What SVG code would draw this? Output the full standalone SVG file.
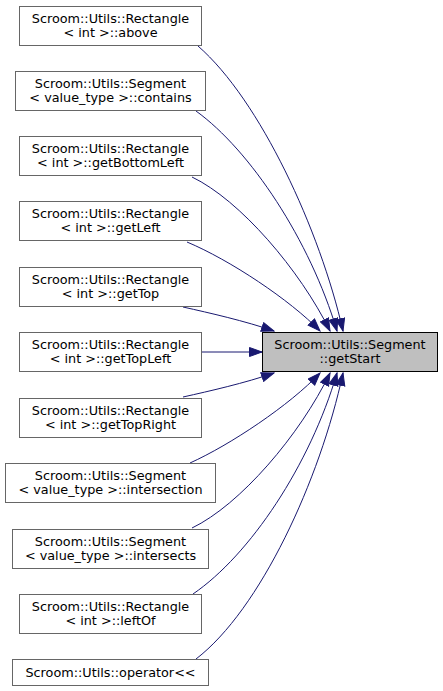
<svg xmlns="http://www.w3.org/2000/svg" width="443" height="691" viewBox="0 0 443 691">
<style>
.box{fill:#ffffff;stroke:#666666;stroke-width:1}
.tgt{fill:#bfbfbf;stroke:#000000;stroke-width:1}
text{font-family:"DejaVu Sans",sans-serif;font-size:12.8px;fill:#000000;text-anchor:middle}
.edge{fill:none;stroke:#191970;stroke-width:1;marker-end:url(#arr)}
</style>
<defs>
<marker id="arr" markerUnits="userSpaceOnUse" markerWidth="14" markerHeight="12" refX="13" refY="5" orient="auto">
<path d="M0.5,0.5 L13,5 L0.5,9.5 z" fill="#191970" stroke="#191970" stroke-width="1"/>
</marker>
</defs>
<rect width="443" height="691" fill="#ffffff"/>
<g id="connectors">
<path class="edge" d="M198,46 C260,100 320,230 343,331"/>
<path class="edge" d="M196,111 C250,150 310,240 337,331"/>
<path class="edge" d="M192,177 C240,200 300,270 330,331"/>
<path class="edge" d="M187,242 C230,260 290,300 320,331"/>
<path class="edge" d="M183,307 C210,313 245,321 274,331"/>
<path class="edge" d="M201,352 L262,352"/>
<path class="edge" d="M183,397 C210,391 245,383 274,373"/>
<path class="edge" d="M190,463 C230,445 290,405 320,373"/>
<path class="edge" d="M192,528 C240,505 300,435 330,373"/>
<path class="edge" d="M193,594 C250,555 310,465 337,373"/>
<path class="edge" d="M196,659 C260,610 320,480 343,373"/>
</g>
<g id="target">
<rect class="tgt" x="262.5" y="332.5" width="175" height="39"/>
<text x="350" y="348.5">Scroom::Utils::Segment</text>
<text x="350" y="363">::getStart</text>
</g>
<g id="n1">
<rect class="box" x="19.5" y="6.5" width="182" height="39"/>
<text x="110.5" y="22.5">Scroom::Utils::Rectangle</text>
<text x="110.5" y="37">&lt; int &gt;::above</text>
</g>
<g id="n2">
<rect class="box" x="15.5" y="71.5" width="190" height="39"/>
<text x="110.5" y="87.5">Scroom::Utils::Segment</text>
<text x="110.5" y="102">&lt; value_type &gt;::contains</text>
</g>
<g id="n3">
<rect class="box" x="19.5" y="136.5" width="182" height="39"/>
<text x="110.5" y="152.5">Scroom::Utils::Rectangle</text>
<text x="110.5" y="167">&lt; int &gt;::getBottomLeft</text>
</g>
<g id="n4">
<rect class="box" x="19.5" y="201.5" width="182" height="39"/>
<text x="110.5" y="217.5">Scroom::Utils::Rectangle</text>
<text x="110.5" y="232">&lt; int &gt;::getLeft</text>
</g>
<g id="n5">
<rect class="box" x="19.5" y="267.5" width="182" height="39"/>
<text x="110.5" y="283.5">Scroom::Utils::Rectangle</text>
<text x="110.5" y="298">&lt; int &gt;::getTop</text>
</g>
<g id="n6">
<rect class="box" x="19.5" y="332.5" width="182" height="39"/>
<text x="110.5" y="348.5">Scroom::Utils::Rectangle</text>
<text x="110.5" y="363">&lt; int &gt;::getTopLeft</text>
</g>
<g id="n7">
<rect class="box" x="19.5" y="398.5" width="182" height="39"/>
<text x="110.5" y="414.5">Scroom::Utils::Rectangle</text>
<text x="110.5" y="429">&lt; int &gt;::getTopRight</text>
</g>
<g id="n8">
<rect class="box" x="5.5" y="463.5" width="210" height="39"/>
<text x="110.5" y="479.5">Scroom::Utils::Segment</text>
<text x="110.5" y="494">&lt; value_type &gt;::intersection</text>
</g>
<g id="n9">
<rect class="box" x="12.5" y="529.5" width="196" height="39"/>
<text x="110.5" y="545.5">Scroom::Utils::Segment</text>
<text x="110.5" y="560">&lt; value_type &gt;::intersects</text>
</g>
<g id="n10">
<rect class="box" x="19.5" y="594.5" width="182" height="39"/>
<text x="110.5" y="610.5">Scroom::Utils::Rectangle</text>
<text x="110.5" y="625">&lt; int &gt;::leftOf</text>
</g>
<g id="n11">
<rect class="box" x="12.5" y="659.5" width="196" height="26"/>
<text x="110.5" y="677">Scroom::Utils::operator&lt;&lt;</text>
</g>
</svg>
